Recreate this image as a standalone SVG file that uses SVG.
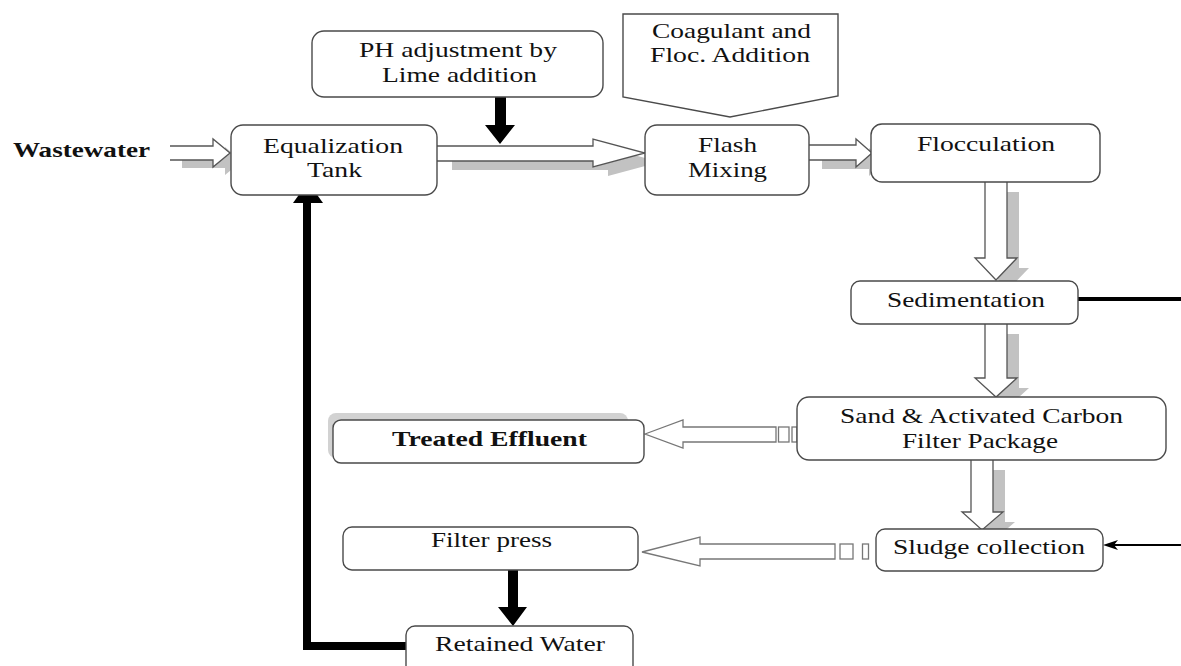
<svg xmlns="http://www.w3.org/2000/svg" width="1181" height="666" viewBox="0 0 1181 666">
<style>
.box{fill:#fff;stroke:#4a4a4a;stroke-width:1.4}
.t{font-family:"Liberation Serif","Times New Roman",serif;font-size:21px;fill:#111}
.b{font-weight:bold}
.hollow{fill:#fff;stroke:#555;stroke-width:1.3}
.thin{fill:#fff;stroke:#777;stroke-width:1.3}
.shadow{fill:#c2c2c2;stroke:none}
.blk{fill:#000;stroke:none}
.line{fill:none;stroke:#000}
</style>
<rect width="1181" height="666" fill="#fff"/>
<g id="shadows">
<path class="shadow" transform="translate(12,8)" d="M170,146 H213 V139 L230,153 L213,167 V160 H170 Z"/>
<path class="shadow" transform="translate(15,9)" d="M437,146 H593 V139 L645,153 L593,167 V161 H437 Z"/>
<path class="shadow" transform="translate(13,9)" d="M809,145 H856 V139 L872,153 L856,167 V160 H809 Z"/>
<path class="shadow" transform="translate(12,10)" d="M985,182 V258 H975 L996,280 L1017,258 H1007 V182 Z"/>
<path class="shadow" transform="translate(12,10)" d="M985,324 V378 H975 L996,397 L1017,378 H1007 V324 Z"/>
<path class="shadow" transform="translate(12,10)" d="M971,460 V512 H962 L982,530 L1003,512 H993 V460 Z"/>
<rect x="328" y="413" width="300" height="45" rx="8" fill="#d2d2d2"/>
</g>
<g id="connectors">
<path class="hollow" d="M170,146 H213 V139 L230,153 L213,167 V160 H170"/>
<path class="hollow" d="M437,146 H593 V139 L645,153 L593,167 V161 H437"/>
<path class="hollow" d="M809,145 H856 V139 L872,153 L856,167 V160 H809"/>
<path class="hollow" d="M985,182 V258 H975 L996,280 L1017,258 H1007 V182"/>
<path class="hollow" d="M985,324 V378 H975 L996,397 L1017,378 H1007 V324"/>
<path class="hollow" d="M971,460 V512 H962 L982,530 L1003,512 H993 V460"/>
<path class="thin" d="M645,434 L683,420 V427 H776 V442 H683 V448 Z"/>
<rect class="thin" x="778.5" y="427" width="10.5" height="15"/>
<rect class="thin" x="792" y="427" width="5" height="15"/>
<path class="thin" d="M642,552 L700,537 V544 H835 V559 H700 V566 Z"/>
<rect class="thin" x="840" y="544" width="13" height="15"/>
<rect class="thin" x="862.5" y="544" width="6" height="15"/>
<polygon class="blk" points="495,97 506,97 506,125 515,125 500,144 485,125 495,125"/>
<polygon class="blk" points="508,570 518,570 518,607 527,607 513,626 498,607 508,607"/>
<path class="line" d="M406,646 H307 V200" stroke-width="8"/>
<polygon class="blk" points="293,203 323,203 308,182"/>
<path class="line" d="M1078,299 H1181" stroke-width="4"/>
<path class="line" d="M1181,545 H1112" stroke-width="2"/>
<polygon class="blk" points="1103,545 1118,540 1114,545 1118,550"/>
</g>
<g id="n-wastewater"><text class="t b" x="13" y="157" textLength="137" lengthAdjust="spacingAndGlyphs">Wastewater</text></g>
<g id="n-ph"><rect class="box" x="312" y="31" width="291" height="66" rx="12"/>
<text class="t" x="359" y="57" textLength="198" lengthAdjust="spacingAndGlyphs">PH adjustment by</text>
<text class="t" x="382" y="82" textLength="155" lengthAdjust="spacingAndGlyphs">Lime addition</text></g>
<g id="n-coagulant"><polygon class="box" points="623,14 838,14 838,96 730,117 623,97"/>
<text class="t" x="652" y="38" textLength="159" lengthAdjust="spacingAndGlyphs">Coagulant and</text>
<text class="t" x="650" y="62" textLength="160" lengthAdjust="spacingAndGlyphs">Floc. Addition</text></g>
<g id="n-equalization"><rect class="box" x="231" y="125" width="206" height="70" rx="12"/>
<text class="t" x="263" y="153" textLength="140" lengthAdjust="spacingAndGlyphs">Equalization</text>
<text class="t" x="307" y="177" textLength="55" lengthAdjust="spacingAndGlyphs">Tank</text></g>
<g id="n-flash"><rect class="box" x="645" y="125" width="164" height="70" rx="12"/>
<text class="t" x="698" y="152" textLength="59" lengthAdjust="spacingAndGlyphs">Flash</text>
<text class="t" x="688" y="177" textLength="79" lengthAdjust="spacingAndGlyphs">Mixing</text></g>
<g id="n-flocculation"><rect class="box" x="871" y="124" width="229" height="58" rx="11"/>
<text class="t" x="917" y="151" textLength="138" lengthAdjust="spacingAndGlyphs">Flocculation</text></g>
<g id="n-sedimentation"><rect class="box" x="851" y="281" width="227" height="43" rx="9"/>
<text class="t" x="887" y="307" textLength="158" lengthAdjust="spacingAndGlyphs">Sedimentation</text></g>
<g id="n-sand"><rect class="box" x="797" y="397" width="369" height="63" rx="12"/>
<text class="t" x="840" y="423" textLength="283" lengthAdjust="spacingAndGlyphs">Sand &amp; Activated Carbon</text>
<text class="t" x="902" y="448" textLength="156" lengthAdjust="spacingAndGlyphs">Filter Package</text></g>
<g id="n-treated"><rect class="box" x="333" y="420" width="311" height="43" rx="8"/>
<text class="t b" x="392" y="446" textLength="195" lengthAdjust="spacingAndGlyphs">Treated Effluent</text></g>
<g id="n-sludge"><rect class="box" x="876" y="529" width="227" height="42" rx="9"/>
<text class="t" x="893" y="554" textLength="192" lengthAdjust="spacingAndGlyphs">Sludge collection</text></g>
<g id="n-filterpress"><rect class="box" x="343" y="527" width="295" height="43" rx="9"/>
<text class="t" x="431" y="547" textLength="121" lengthAdjust="spacingAndGlyphs">Filter press</text></g>
<g id="n-retained"><rect class="box" x="406" y="626" width="227" height="55" rx="9"/>
<text class="t" x="435" y="651" textLength="170" lengthAdjust="spacingAndGlyphs">Retained Water</text></g>
</svg>
